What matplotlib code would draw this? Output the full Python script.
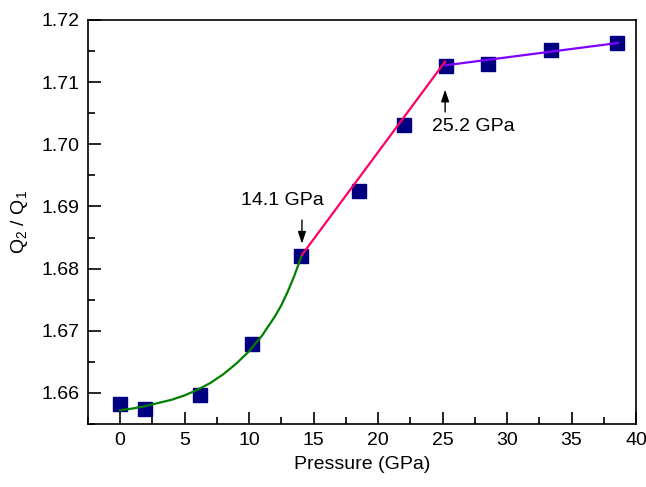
import matplotlib
matplotlib.use('Agg')
import matplotlib.pyplot as plt
from matplotlib.ticker import MultipleLocator

plt.rcParams['font.family'] = ['Liberation Sans', 'DejaVu Sans']
plt.rcParams['mathtext.fontset'] = 'custom'
plt.rcParams['mathtext.rm'] = 'Liberation Sans'
plt.rcParams['mathtext.it'] = 'Liberation Sans:italic'

# measured points
pressure = [0.0, 1.9, 6.2, 10.25, 14.05, 18.5, 22.0, 25.3, 28.55, 33.4, 38.5]
ratio = [1.6582, 1.6574, 1.6596, 1.6678, 1.6820, 1.6925, 1.7031, 1.7126, 1.7129, 1.7152, 1.7163]

# green fit curve
fit1_x = [0, 1, 2, 3, 4, 5, 6, 7, 8, 9, 10, 11, 12, 12.5, 13, 13.5, 14.1]
fit1_y = [1.6572, 1.6575, 1.6579, 1.6584, 1.6589, 1.6596, 1.6605, 1.6616, 1.6630,
          1.6647, 1.6667, 1.6692, 1.6723, 1.6741, 1.6763, 1.6788, 1.6822]

# linear segments
fit2_x = [14.1, 25.2]
fit2_y = [1.6822, 1.7133]
fit3_x = [25.2, 38.6]
fit3_y = [1.7127, 1.7163]

fig = plt.figure(figsize=(6.46, 4.87), dpi=100)
ax = fig.add_axes([0.136, 0.1294, 0.8485, 0.8296])

ax.plot(pressure, ratio, ls='none', marker='s', ms=10, color='#000080', zorder=2)
ax.plot(fit1_x, fit1_y, color='#008000', lw=1.6, zorder=3)
ax.plot(fit2_x, fit2_y, color='#FF0066', lw=1.6, zorder=3)
ax.plot(fit3_x, fit3_y, color='#8000FF', lw=1.6, zorder=3)

arrow = dict(arrowstyle='-|>,head_length=0.6,head_width=0.2', color='black', lw=1,
             mutation_scale=12, shrinkA=0, shrinkB=0)
ax.annotate('', xy=(14.1, 1.6840), xytext=(14.1, 1.6878), arrowprops=arrow)
ax.text(12.6, 1.6910, '14.1 GPa', ha='center', va='center', fontsize=14)
ax.annotate('', xy=(25.2, 1.7088), xytext=(25.2, 1.7052), arrowprops=arrow)
ax.text(24.2, 1.7028, '25.2 GPa', ha='left', va='center', fontsize=14)

ax.set_xlim(-2.5, 40)
ax.set_ylim(1.655, 1.72)
ax.xaxis.set_major_locator(MultipleLocator(5))
ax.xaxis.set_minor_locator(MultipleLocator(2.5))
ax.yaxis.set_major_locator(MultipleLocator(0.01))
ax.yaxis.set_minor_locator(MultipleLocator(0.005))
ax.yaxis.set_major_formatter(matplotlib.ticker.FormatStrFormatter('%.2f'))
ax.tick_params(which='both', direction='in', top=False, right=False, labelsize=14, width=1.2)
ax.tick_params(which='major', length=9, pad=6)
ax.tick_params(which='minor', length=5)
for s in ax.spines.values():
    s.set_linewidth(1.2)

ax.set_xlabel('Pressure (GPa)', fontsize=14, labelpad=5)
ax.set_ylabel(r'Q$_{\mathit{2}}$ / Q$_{\mathit{1}}$', fontsize=14, labelpad=8)

fig.savefig('out.png', dpi=100)
